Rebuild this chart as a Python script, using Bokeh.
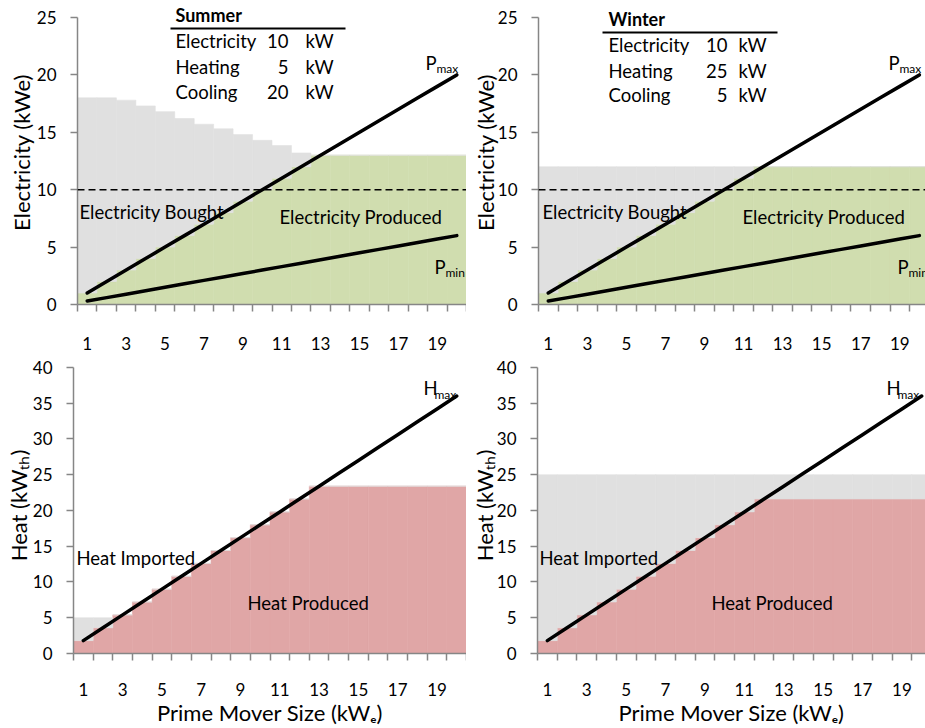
import math
from bokeh.plotting import figure
from bokeh.models import FixedTicker, Span, Range1d, ColumnDataSource
from bokeh.layouts import column, row
from bokeh.embed import file_html
from bokeh.resources import INLINE
from bokeh.core.properties import value

# ---------------- data ----------------
categories = [1, 2, 3, 4, 5, 6, 7, 8, 9, 10, 11, 12, 13, 14, 15, 16, 17, 18, 19, 20]
x_tick_labels = [1, 3, 5, 7, 9, 11, 13, 15, 17, 19]
elec_ticks = [0, 5, 10, 15, 20, 25]
heat_ticks = [0, 5, 10, 15, 20, 25, 30, 35, 40]

summer_elec_produced = [1, 2, 3, 4, 5, 6, 7, 8, 9, 10, 11, 12, 13, 13, 13, 13, 13, 13, 13, 13]
summer_elec_bought = [17, 16, 14.8, 13.3, 11.8, 10.2, 8.7, 7.3, 5.8, 4.3, 2.85, 1.2, 0, 0, 0, 0, 0, 0, 0, 0]
winter_elec_produced = [1, 2, 3, 4, 5, 6, 7, 8, 9, 10, 11, 12, 12, 12, 12, 12, 12, 12, 12, 12]
winter_elec_bought = [11, 10, 9, 8, 7, 6, 5, 4, 3, 2, 1, 0, 0, 0, 0, 0, 0, 0, 0, 0]
p_max = [1, 2, 3, 4, 5, 6, 7, 8, 9, 10, 11, 12, 13, 14, 15, 16, 17, 18, 19, 20]
p_min = [0.3, 0.6, 0.9, 1.2, 1.5, 1.8, 2.1, 2.4, 2.7, 3.0, 3.3, 3.6, 3.9, 4.2, 4.5, 4.8, 5.1, 5.4, 5.7, 6.0]
electricity_demand = 10

summer_heat_produced = [1.8, 3.6, 5.4, 7.2, 9.0, 10.8, 12.6, 14.4, 16.2, 18.0, 19.8, 21.6, 23.4,
                        23.4, 23.4, 23.4, 23.4, 23.4, 23.4, 23.4]
summer_heat_imported = [3.2, 1.4, 0, 0, 0, 0, 0, 0, 0, 0, 0, 0, 0, 0, 0, 0, 0, 0, 0, 0]
winter_heat_produced = [1.8, 3.6, 5.4, 7.2, 9.0, 10.8, 12.6, 14.4, 16.2, 18.0, 19.8, 21.6,
                        21.6, 21.6, 21.6, 21.6, 21.6, 21.6, 21.6, 21.6]
winter_heat_imported = [23.2, 21.4, 19.6, 17.8, 16.0, 14.2, 12.4, 10.6, 8.8, 7.0, 5.2, 3.4,
                        3.4, 3.4, 3.4, 3.4, 3.4, 3.4, 3.4, 3.4]
h_max = [1.8, 3.6, 5.4, 7.2, 9.0, 10.8, 12.6, 14.4, 16.2, 18.0, 19.8, 21.6, 23.4, 25.2, 27.0,
         28.8, 30.6, 32.4, 34.2, 36.0]

summer_names = ["Electricity", "Heating", "Cooling"]
summer_values = ["10", "5", "20"]
winter_names = ["Electricity", "Heating", "Cooling"]
winter_values = ["10", "25", "5"]

elec_title = "Electricity (kWe)"
heat_title = "Heat (kW\u209c\u2095)"
x_title = "Prime Mover Size (kW\u2091)"

# ---------------- style ----------------
FONT = "Lato"
GRAY = "#E0E0E0"
GREEN = "#D0DDAF"
RED = "#E0A6A6"
AXIS = "#868686"


class Panel:
    """One chart; ox/oy = page position of the figure, frame spans from figure top."""

    def __init__(self, ox, oy, width, height, left, fw, zero_py, top_py, y_max, y_ticks,
                 x_span_px, x_std, y_title, y_title_std, show_x_title):
        self.ox, self.oy, self.left, self.fw = ox, oy, left, fw
        self.zero_py = zero_py
        self.ppy = (zero_py - top_py) / y_max          # pixels per y unit
        self.ppx = x_span_px                            # pixels per category
        fh = zero_py - oy
        x_end = 0.5 + fw / x_span_px
        y_end = fh / self.ppy
        p = figure(width=width, height=height,
                   x_range=Range1d(0.5, x_end), y_range=Range1d(0, y_end),
                   output_backend="svg", toolbar_location=None,
                   min_border_left=left, min_border_top=0,
                   min_border_right=width - left - fw,
                   min_border_bottom=height - fh)
        p.outline_line_color = None
        p.xgrid.visible = False
        p.ygrid.visible = False
        p.background_fill_color = "white"
        p.border_fill_color = "white"

        xa = p.xaxis[0]
        xa.ticker = FixedTicker(ticks=x_tick_labels,
                                minor_ticks=[c - 0.5 for c in categories] + [categories[-1] + 0.5])
        xa.major_tick_out = 0
        xa.major_tick_in = 0
        xa.major_tick_line_color = None
        xa.minor_tick_out = 7
        xa.minor_tick_in = 0
        xa.minor_tick_line_color = AXIS
        xa.minor_tick_line_width = 1.5
        xa.axis_line_color = AXIS
        xa.axis_line_width = 1.5
        xa.major_label_text_font = FONT
        xa.major_label_text_font_size = "17px"
        xa.major_label_text_color = "black"
        xa.major_label_standoff = x_std
        if show_x_title:
            xa.axis_label = x_title
            xa.axis_label_text_font = FONT
            xa.axis_label_text_font_size = "22px"
            xa.axis_label_text_font_style = "normal"
            xa.axis_label_text_color = "black"
            xa.axis_label_standoff = 0

        ya = p.yaxis[0]
        ya.ticker = FixedTicker(ticks=y_ticks, minor_ticks=[])
        ya.bounds = (0, y_max)
        ya.major_tick_out = 7
        ya.major_tick_in = 0
        ya.major_tick_line_color = AXIS
        ya.major_tick_line_width = 1.5
        ya.minor_tick_line_color = None
        ya.axis_line_color = AXIS
        ya.axis_line_width = 1.5
        ya.major_label_text_font = FONT
        ya.major_label_text_font_size = "17px"
        ya.major_label_text_color = "black"
        ya.major_label_standoff = 14
        ya.axis_label = y_title
        ya.axis_label_text_font = FONT
        ya.axis_label_text_font_size = "22px"
        ya.axis_label_text_font_style = "normal"
        ya.axis_label_text_color = "black"
        ya.axis_label_standoff = y_title_std
        self.p = p

    # page pixel -> data
    def dx(self, px):
        return 0.5 + (px - self.ox - self.left) / self.ppx

    def dy(self, py):
        return (self.zero_py - py) / self.ppy

    def bars(self, low, high, low_color, high_color):
        src = ColumnDataSource(dict(x=categories, low=low,
                                    total=[a + b for a, b in zip(low, high)]))
        self.p.vbar(x="x", bottom=0, top="low", width=1, source=src,
                    fill_color=low_color, line_color=low_color, line_width=0.6)
        self.p.vbar(x="x", bottom="low", top="total", width=1, source=src,
                    fill_color=high_color, line_color=high_color, line_width=0.6)

    def curve(self, ys):
        self.p.line(categories, ys, line_color="black", line_width=3.5, line_cap="round")

    def gtext(self, px, py, s, size, align="left", baseline="middle", style="normal"):
        self.p.text(x=[self.dx(px)], y=[self.dy(py)], text=[s], text_font=value(FONT),
                    text_font_size=f"{size}px", text_align=align, text_baseline=baseline,
                    text_font_style=style, text_color="black")

    def sub_label(self, px, py, main, sub):
        self.gtext(px, py, main, 18.5)
        self.gtext(px + 11, py + 6, sub, 12)

    def table(self, header, hx, hy, line_x0, line_x1, line_y, names, vals, rows_y, val_right, unit_x):
        self.gtext(hx, hy, header, 18, style="bold")
        self.p.segment(x0=[self.dx(line_x0)], y0=[self.dy(line_y)], x1=[self.dx(line_x1)],
                       y1=[self.dy(line_y)], line_color="black", line_width=2)
        for n, v, ry in zip(names, vals, rows_y):
            self.gtext(hx, ry, n, 18.5)
            self.gtext(val_right, ry, v, 18.5, align="right")
            self.gtext(unit_x, ry, "kW", 18.5)


# ---------------- panels ----------------
tl = Panel(0, 0, 466, 357, 77, 389, 304, 17, 25, elec_ticks, 19.45, 25, elec_title, -1, False)
tr = Panel(466, 0, 459, 357, 72, 387, 304, 17, 25, elec_ticks, 19.53, 25, elec_title, -4, False)
bl = Panel(0, 357, 466, 371, 73, 393, 654, 367, 40, heat_ticks, 19.65, 22, heat_title, -2, True)
br = Panel(466, 357, 459, 371, 71, 388, 654, 367, 40, heat_ticks, 19.7, 22, heat_title, -4, True)

# electricity panels
for pan, prod, bought in ((tl, summer_elec_produced, summer_elec_bought),
                          (tr, winter_elec_produced, winter_elec_bought)):
    pan.bars(prod, bought, GREEN, GRAY)
    pan.p.add_layout(Span(location=electricity_demand, dimension="width", line_color="black",
                          line_dash="7 4", line_width=1.5))
    pan.curve(p_max)
    pan.curve(p_min)

tl.gtext(79, 211, "Electricity Bought", 18.5)
tl.gtext(279, 216, "Electricity Produced", 18.5)
tl.sub_label(425, 62, "P", "max")
tl.sub_label(434, 266, "P", "min")
tl.table("Summer", 175, 14, 170, 345, 28, summer_names, summer_values, [40, 66, 91], 288, 305)

tr.gtext(542, 211, "Electricity Bought", 18.5)
tr.gtext(742, 216, "Electricity Produced", 18.5)
tr.sub_label(888, 62, "P", "max")
tr.sub_label(897, 266, "P", "min")
tr.table("Winter", 608, 18, 602, 777, 32, winter_names, winter_values, [44, 70, 94], 727, 738)

# heat panels
bl.bars(summer_heat_produced, summer_heat_imported, RED, GRAY)
bl.curve(h_max)
br.bars(winter_heat_produced, winter_heat_imported, RED, GRAY)
br.curve(h_max)

bl.sub_label(423, 388, "H", "max")
br.sub_label(886, 388, "H", "max")
bl.gtext(76, 558, "Heat Imported", 18.5)
bl.gtext(247, 603, "Heat Produced", 18.5)
br.gtext(539, 558, "Heat Imported", 18.5)
br.gtext(711, 603, "Heat Produced", 18.5)

layout = column(row(tl.p, tr.p), row(bl.p, br.p))
open("out.html", "w").write(file_html(layout, INLINE))
